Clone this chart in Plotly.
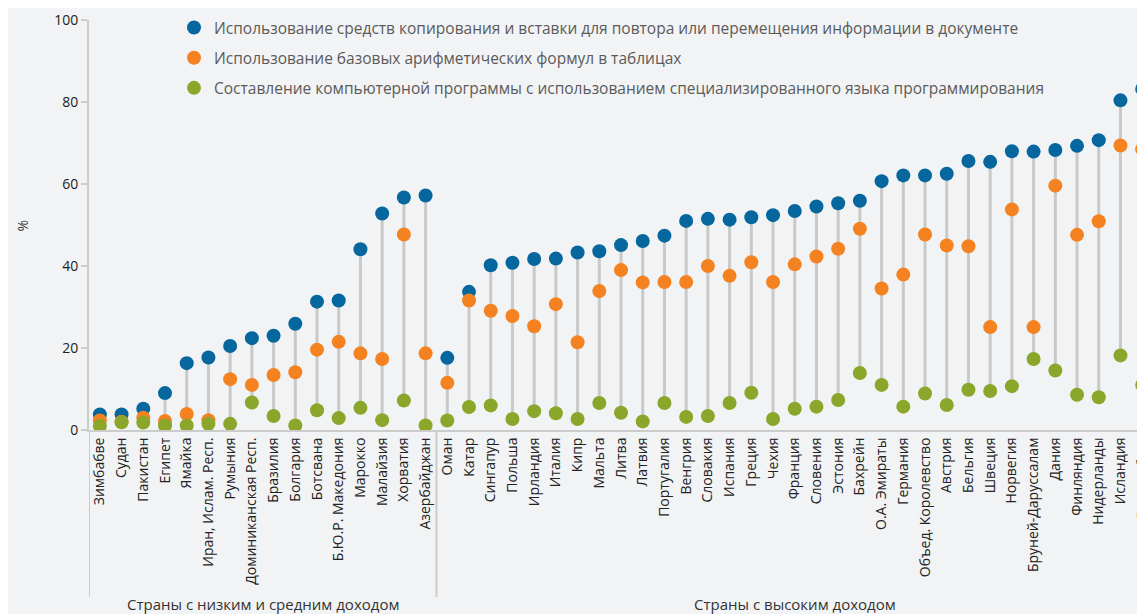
import plotly.graph_objects as go

countries = [
    "Зимбабве", "Судан", "Пакистан", "Египет", "Ямайка", "Иран, Ислам. Респ.",
    "Румыния", "Доминиканская Респ.", "Бразилия", "Болгария", "Ботсвана",
    "Б.Ю.Р. Македония", "Марокко", "Малайзия", "Хорватия", "Азербайджан",
    "Оман", "Катар", "Сингапур", "Польша", "Ирландия", "Италия", "Кипр",
    "Мальта", "Литва", "Латвия", "Португалия", "Венгрия", "Словакия",
    "Испания", "Греция", "Чехия", "Франция", "Словения", "Эстония", "Бахрейн",
    "О.А. Эмираты", "Германия", "Объед. Королевство", "Австрия", "Бельгия",
    "Швеция", "Норвегия", "Бруней-Даруссалам", "Дания", "Финляндия",
    "Нидерланды", "Исландия", "Люксембург",
]

copy_paste = [
    3.8, 3.8, 5.2, 9.0, 16.3, 17.7, 20.5, 22.4, 23.0, 25.9, 31.3, 31.6, 44.1,
    52.8, 56.7, 57.2,
    17.6, 33.7, 40.2, 40.8, 41.7, 41.8, 43.3, 43.6, 45.1, 46.1, 47.4, 51.0,
    51.5, 51.3, 51.9, 52.4, 53.4, 54.5, 55.3, 55.9, 60.7, 62.1, 62.1, 62.5,
    65.6, 65.4, 68.0, 67.9, 68.3, 69.3, 70.7, 80.4, 83.2,
]

formulas = [
    2.3, 2.0, 3.0, 2.2, 3.9, 2.4, 12.4, 11.0, 13.4, 14.1, 19.6, 21.5, 18.7,
    17.3, 47.7, 18.7,
    11.5, 31.6, 29.1, 27.8, 25.3, 30.7, 21.4, 33.9, 39.0, 36.0, 36.1, 36.1,
    40.0, 37.6, 40.9, 36.1, 40.4, 42.3, 44.2, 49.1, 34.5, 37.9, 47.7, 45.0,
    44.8, 25.1, 53.8, 25.1, 59.6, 47.6, 50.9, 69.4, 68.5,
]

programming = [
    1.0, 1.9, 1.8, 1.1, 1.1, 1.5, 1.5, 6.7, 3.4, 1.1, 4.8, 2.9, 5.4, 2.4,
    7.2, 1.1,
    2.3, 5.6, 6.0, 2.7, 4.6, 4.1, 2.7, 6.6, 4.2, 2.1, 6.6, 3.2, 3.4, 6.6,
    9.1, 2.7, 5.2, 5.7, 7.3, 13.9, 11.0, 5.7, 8.9, 6.1, 9.8, 9.5, 10.7,
    17.3, 14.5, 8.6, 8.0, 18.2, 11.0,
]

series_names = [
    "Использование средств копирования и вставки для повтора или перемещения информации в документе",
    "Использование базовых арифметических формул в таблицах",
    "Составление компьютерной программы с использованием специализированного языка программирования",
]

groups = ["Страны с низким и средним доходом", "Страны с высоким доходом"]
group_sizes = [16, 33]

colors = ["#06679f", "#f58220", "#8aa62b"]
FONT = "Open Sans"
BG = "#f2f3f5"

fig = go.Figure()

# connecting vertical lines from min to max
lx, ly = [], []
for i, c in enumerate(countries):
    vals = [copy_paste[i], formulas[i], programming[i]]
    lx += [i, i, None]
    ly += [min(vals), max(vals), None]
fig.add_trace(go.Scatter(
    x=lx, y=ly, mode="lines", line=dict(color="#c9c9c9", width=3),
    showlegend=False, hoverinfo="skip"))

xi = list(range(len(countries)))
for k, (name, vals) in enumerate(zip(series_names, [copy_paste, formulas, programming])):
    fig.add_trace(go.Scatter(
        x=xi, y=vals, mode="markers", name=name, legendgroup=f"g{k}",
        marker=dict(color=colors[k], size=14, line=dict(width=0)),
    ))

# group separators and labels
shapes = []
annotations = []
start = 0
for gname, gsize in zip(groups, group_sizes):
    left = start - 0.5
    shapes.append(dict(type="line", xref="x", yref="paper", x0=left, x1=left,
                       y0=-0.407, y1=0, line=dict(color="#cccccc", width=2)))
    center = start + (gsize - 1) / 2
    annotations.append(dict(text=gname, xref="x", yref="paper", x=center,
                            y=-0.424, showarrow=False, xanchor="center",
                            yanchor="middle",
                            font=dict(family=FONT, size=15, color="#333333")))
    start += gsize

annotations.append(dict(text="%", xref="paper", yref="paper", x=-0.063, y=0.5,
                        textangle=-90, showarrow=False, xanchor="center",
                        yanchor="middle",
                        font=dict(family=FONT, size=14, color="#333333")))

fig.update_layout(
    width=1137, height=606,
    margin=dict(l=81, r=0, t=12, b=184, autoexpand=False),
    paper_bgcolor=BG, plot_bgcolor=BG,
    font=dict(family=FONT, size=14, color="#222222"),
    showlegend=True,
    legend=dict(x=(174 - 89) / 1056, xanchor="left", y=1.022, yanchor="top",
                bgcolor="rgba(0,0,0,0)", tracegroupgap=7,
                font=dict(family=FONT, size=15.5, color="#5b5b5b")),
    shapes=shapes,
    annotations=annotations,
    xaxis=dict(
        tickmode="array", tickvals=xi, ticktext=countries, tickangle=-90,
        range=[-0.5, 48.13], showgrid=False, zeroline=False,
        showline=True, linecolor="#cccccc", linewidth=2, ticks="",
        tickfont=dict(family=FONT, size=14, color="#222222"),
        ticklabeloverflow="allow",
        fixedrange=True, automargin=False,
    ),
    yaxis=dict(
        range=[0, 100], dtick=20, showgrid=False, zeroline=False,
        showline=True, linecolor="#cccccc", linewidth=2,
        ticks="outside", ticklen=6, tickcolor="#cccccc", tickwidth=2,
        tickfont=dict(family=FONT, size=14, color="#222222"),
        fixedrange=True, automargin=False,
    ),
)

fig.write_html("out.html")
